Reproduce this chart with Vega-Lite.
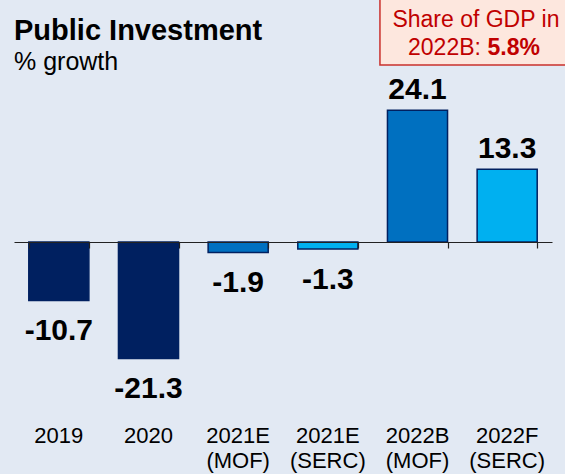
{
  "$schema": "https://vega.github.io/schema/vega-lite/v6.json",
  "width": 538,
  "height": 328,
  "autosize": "none",
  "padding": {"left": 14, "top": 78, "right": 13, "bottom": 68},
  "background": "#E2E9F3",
  "title": {
    "text": "Public Investment",
    "subtitle": "% growth",
    "anchor": "start",
    "frame": "group",
    "font": "Liberation Sans",
    "fontSize": 29,
    "fontWeight": "bold",
    "color": "#000000",
    "subtitleFont": "Liberation Sans",
    "subtitleFontSize": 25,
    "subtitleColor": "#000000",
    "offset": 4,
    "dy": 89,
    "subtitlePadding": 4
  },
  "config": {"view": {"stroke": null}},
  "data": {
    "values": [
      {"cat": "2019", "value": -10.7, "label": "-10.7", "group": "Actual"},
      {"cat": "2020", "value": -21.3, "label": "-21.3", "group": "Actual"},
      {"cat": "2021E (MOF)", "value": -1.9, "label": "-1.9", "group": "MOF"},
      {"cat": "2021E (SERC)", "value": -1.3, "label": "-1.3", "group": "SERC"},
      {"cat": "2022B (MOF)", "value": 24.1, "label": "24.1", "group": "MOF"},
      {"cat": "2022F (SERC)", "value": 13.3, "label": "13.3", "group": "SERC"}
    ]
  },
  "layer": [
    {
      "mark": {"type": "bar", "stroke": "#002060", "strokeWidth": 1.5},
      "encoding": {
        "x": {
          "field": "cat", "type": "nominal",
          "scale": {"paddingInner": 0.33, "paddingOuter": 0.165},
          "axis": {
            "orient": "bottom", "offset": -164, "labels": false, "title": null,
            "domainColor": "#222222", "domainWidth": 1.2,
            "tickColor": "#222222", "tickSize": 6, "tickWidth": 1.2,
            "tickBand": "extent", "zindex": 1
          }
        },
        "y": {"field": "value", "type": "quantitative", "scale": {"domain": [-30, 30]}, "axis": null},
        "color": {
          "field": "group", "type": "nominal",
          "scale": {"domain": ["Actual", "MOF", "SERC"], "range": ["#002060", "#0070C0", "#00B0F0"]},
          "legend": null
        }
      }
    },
    {
      "transform": [{"filter": "datum.value > 0"}],
      "mark": {"type": "text", "baseline": "alphabetic", "dy": -11, "font": "Liberation Sans", "fontSize": 30, "fontWeight": "bold", "color": "#000000"},
      "encoding": {
        "x": {
          "field": "cat", "type": "nominal",
          "axis": {
            "orient": "bottom", "domain": false, "ticks": false, "tickSize": 0, "title": null,
            "labelExpr": "split(datum.label, ' ')", "labelFont": "Liberation Sans", "labelFontSize": 22,
            "labelColor": "#000000", "labelPadding": 19, "labelLineHeight": 25, "labelAngle": 0
          }
        },
        "y": {"field": "value", "type": "quantitative", "axis": null},
        "text": {"field": "label"}
      }
    },
    {
      "transform": [{"filter": "datum.value < 0"}],
      "mark": {"type": "text", "baseline": "top", "dy": 16, "font": "Liberation Sans", "fontSize": 30, "fontWeight": "bold", "color": "#000000"},
      "encoding": {
        "x": {"field": "cat", "type": "nominal", "axis": null},
        "y": {"field": "value", "type": "quantitative", "axis": null},
        "text": {"field": "label"}
      }
    },
    {
      "data": {"values": [{}]},
      "mark": {"type": "rect", "fill": "#888888", "opacity": 0.35, "xOffset": 3, "yOffset": 4},
      "encoding": {
        "x": {"datum": "2022B (MOF)", "type": "nominal", "bandPosition": -0.125, "axis": null},
        "x2": {"datum": "2022F (SERC)", "bandPosition": 1.63},
        "y": {"datum": 46, "type": "quantitative", "axis": null},
        "y2": {"datum": 32.4}
      }
    },
    {
      "data": {"values": [{}]},
      "mark": {"type": "rect", "fill": "#FDE7DE", "stroke": "#C9302C", "strokeWidth": 1.5},
      "encoding": {
        "x": {"datum": "2022B (MOF)", "type": "nominal", "bandPosition": -0.125, "axis": null},
        "x2": {"datum": "2022F (SERC)", "bandPosition": 1.63},
        "y": {"datum": 46, "type": "quantitative", "axis": null},
        "y2": {"datum": 32.4}
      }
    },
    {
      "data": {"values": [{}]},
      "mark": {"type": "text", "font": "Liberation Sans", "fontSize": 23, "color": "#C00000", "align": "center", "baseline": "alphabetic"},
      "encoding": {
        "x": {"datum": "2022F (SERC)", "type": "nominal", "bandPosition": -0.02, "axis": null},
        "y": {"datum": 39.3, "type": "quantitative", "axis": null},
        "text": {"value": "Share of GDP in"}
      }
    },
    {
      "data": {"values": [{}]},
      "mark": {"type": "text", "font": "Liberation Sans", "fontSize": 23, "color": "#C00000", "align": "right", "baseline": "alphabetic"},
      "encoding": {
        "x": {"datum": "2022F (SERC)", "type": "nominal", "bandPosition": 0.063, "axis": null},
        "y": {"datum": 34.2, "type": "quantitative", "axis": null},
        "text": {"value": "2022B:"}
      }
    },
    {
      "data": {"values": [{}]},
      "mark": {"type": "text", "font": "Liberation Sans", "fontSize": 23, "fontWeight": "bold", "color": "#C00000", "align": "left", "baseline": "alphabetic"},
      "encoding": {
        "x": {"datum": "2022F (SERC)", "type": "nominal", "bandPosition": 0.172, "axis": null},
        "y": {"datum": 34.2, "type": "quantitative", "axis": null},
        "text": {"value": "5.8%"}
      }
    }
  ],
  "resolve": {"axis": {"x": "independent"}}
}
